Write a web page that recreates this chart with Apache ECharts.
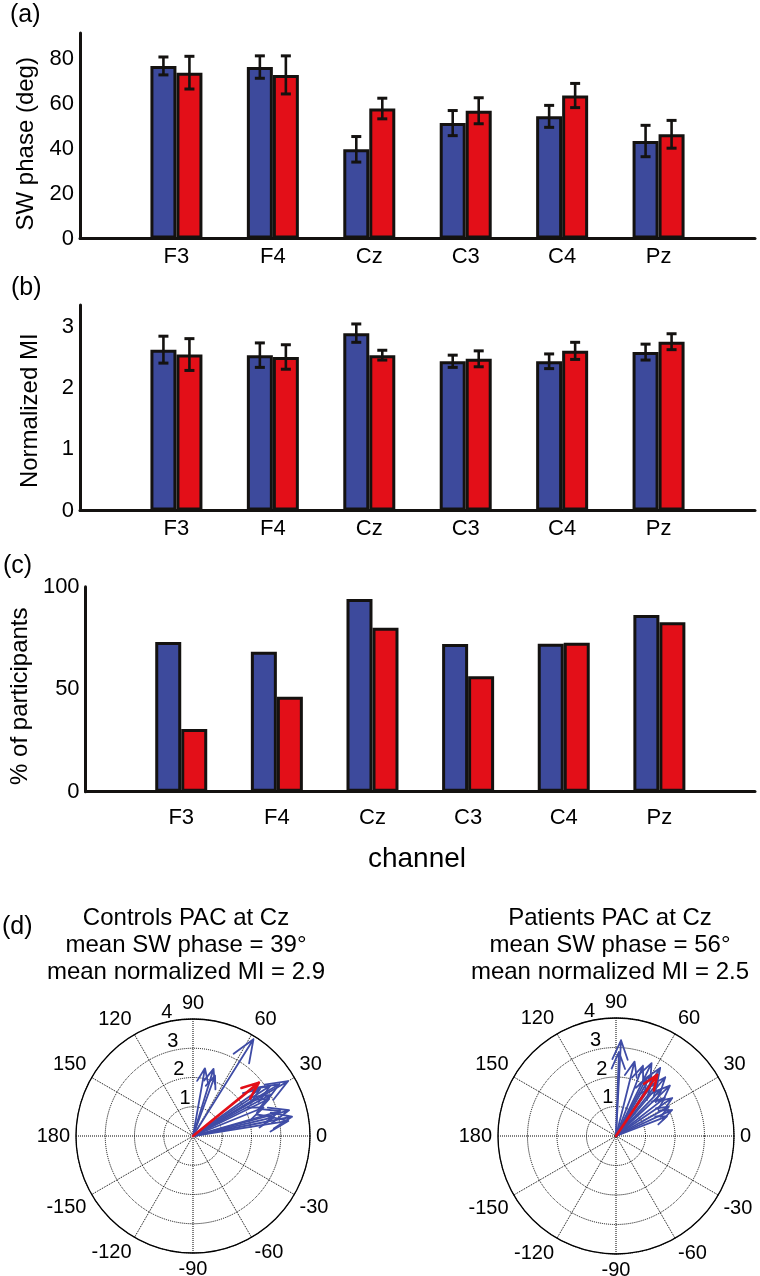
<!DOCTYPE html>
<html>
<head>
<meta charset="utf-8">
<script src="https://cdn.jsdelivr.net/npm/echarts@6/dist/echarts.min.js"></script>
<style>
html,body{margin:0;padding:0;background:#fff;}
#chart{width:760px;height:1276px;}
</style>
</head>
<body>
<div id="chart"></div>
<script>
// ---------- data ----------
const channels = ['F3', 'F4', 'Cz', 'C3', 'C4', 'Pz'];

// (a) SW phase (deg)
const phaseControls = [77, 76.5, 39.8, 51.5, 54.5, 43.5];
const phaseControlsErr = [4, 5, 5.7, 5.6, 4.9, 7];
const phasePatients = [74, 73, 58, 57, 63.8, 46.5];
const phasePatientsErr = [7.3, 8.5, 4.6, 5.8, 5.4, 6.2];

// (b) Normalized MI
const miControls = [2.63, 2.54, 2.9, 2.44, 2.44, 2.59];
const miControlsErr = [0.22, 0.2, 0.15, 0.1, 0.12, 0.13];
const miPatients = [2.55, 2.51, 2.54, 2.48, 2.61, 2.76];
const miPatientsErr = [0.26, 0.2, 0.08, 0.13, 0.14, 0.13];

// (c) % of participants
const pctControls = [73, 68.3, 94, 72, 72.2, 86.2];
const pctPatients = [30.6, 46.3, 80, 56.3, 72.7, 82.6];

// (d) compass plots at Cz
const ctrlAngle = [58, 80, 73, 70, 30, 31, 33, 28, 35, 26, 15, 11, 16, 13, 9, 22];
const ctrlMI    = [3.9, 2.35, 2.4, 2.2, 3.75, 3.45, 3.15, 3.0, 2.8, 2.9, 3.4, 3.45, 3.1, 2.85, 3.3, 2.6];
const patAngle  = [87, 88, 76, 69, 64, 60, 57, 52, 50, 46, 43, 38, 34, 29, 25, 21, 55, 62];
const patMI     = [3.25, 2.85, 2.6, 2.55, 2.75, 2.4, 2.75, 2.3, 2.6, 2.2, 2.5, 2.1, 2.3, 2.05, 2.1, 1.85, 2.0, 2.2];
const meanAngle = [39, 56];
const meanMI = [2.9, 2.5];
const groupNames = ['Controls', 'Patients'];
const radiusTicks = [1, 2, 3, 4];

// ---------- styles ----------
const FONT = 'Arial, "Liberation Sans", sans-serif';
const BLUE = '#3d4a9c';
const RED = '#e30f18';
const ARROW_BLUE = '#3f4ca6';
const EDGE = '#141210';
const BARW = 26;

const padded = ['', ...channels, ''];
const pad = arr => ['-', ...arr, '-'];

const grids = [
  {left: 80, top: 33, width: 675, height: 205.5},
  {left: 80, top: 305, width: 675, height: 205.5},
  {left: 79, top: 586.7, width: 676, height: 205}
];
const yMax = [91.7, 3.36, 100];
const yInt = [20, 1, 50];
const yNames = ['SW phase (deg)', 'Normalized MI', '% of participants'];
const yGaps = [42, 38, 40];
const yPad = [[0, 16, 0, 0], [0, 6, 0, 0], [0, 14, 0, 0]];
const xMargins = [7, 7, 15];

const xAxes = grids.map((g, i) => ({
  gridIndex: i, type: 'category', data: padded, boundaryGap: false,
  axisLine: {lineStyle: {color: EDGE, width: 3}},
  axisTick: {show: false},
  axisLabel: {color: '#000', fontSize: 22, fontFamily: FONT, margin: xMargins[i], interval: 0},
  splitLine: {show: false}
}));
const yAxes = grids.map((g, i) => ({
  gridIndex: i, type: 'value', min: 0, max: yMax[i], interval: yInt[i],
  name: yNames[i], nameLocation: 'middle', nameGap: yGaps[i],
  nameTextStyle: {color: '#000', fontSize: 24, fontFamily: FONT, padding: yPad[i]},
  axisLine: {show: true, lineStyle: {color: EDGE, width: 3}},
  axisTick: {show: false},
  axisLabel: {color: '#000', fontSize: 22, fontFamily: FONT, margin: 6, showMaxLabel: i === 2},
  splitLine: {show: false}
}));

function barSeries(i, vals, color) {
  return {
    type: 'bar', xAxisIndex: i, yAxisIndex: i, data: pad(vals),
    barWidth: BARW, barGap: '0%',
    itemStyle: {color: color, borderColor: EDGE, borderWidth: 3},
    z: 2, animation: false
  };
}
function errSeries(i, vals, errs, offset) {
  return {
    type: 'custom', xAxisIndex: i, yAxisIndex: i, z: 5, animation: false,
    data: vals.map((v, k) => [k + 1, v, errs[k]]),
    renderItem: function (p, api) {
      const x = api.value(0), v = api.value(1), e = api.value(2);
      const t = api.coord([x, v + e]), b = api.coord([x, v - e]);
      const cx = t[0] + offset;
      const st = {stroke: EDGE, lineWidth: 2.6};
      const cap = {stroke: EDGE, lineWidth: 3};
      return {type: 'group', children: [
        {type: 'line', shape: {x1: cx, y1: t[1], x2: cx, y2: b[1]}, style: st},
        {type: 'line', shape: {x1: cx - 5, y1: t[1], x2: cx + 5, y2: t[1]}, style: cap},
        {type: 'line', shape: {x1: cx - 5, y1: b[1], x2: cx + 5, y2: b[1]}, style: cap}
      ]};
    }
  };
}
function arrowSeries(pi, angles, mis, color, width, z) {
  return {
    type: 'custom', coordinateSystem: 'polar', polarIndex: pi, z: z, animation: false,
    data: angles.map((a, k) => [mis[k], a]),
    renderItem: function (p, api) {
      const r = api.value(0), a = api.value(1);
      const tip = api.coord([r, a]);
      const o = api.coord([0, a]);
      const dx = tip[0] - o[0], dy = tip[1] - o[1];
      const h1 = [o[0] + 0.8 * dx - 0.08 * dy, o[1] + 0.8 * dy + 0.08 * dx];
      const h2 = [o[0] + 0.8 * dx + 0.08 * dy, o[1] + 0.8 * dy - 0.08 * dx];
      return {type: 'polyline', shape: {points: [o, tip, h1, tip, h2]},
        style: {stroke: color, lineWidth: width, fill: null, lineJoin: 'round', lineCap: 'round'}};
    }
  };
}
function radiusLabelSeries(pi) {
  return {
    type: 'custom', coordinateSystem: 'polar', polarIndex: pi, z: 3, animation: false, silent: true,
    data: radiusTicks.map(t => [t + 0.32, 102, t]),
    renderItem: function (p, api) {
      const pt = api.coord([api.value(0), api.value(1)]);
      return {type: 'text', x: pt[0], y: pt[1],
        style: {text: String(api.value(2)), fill: '#000', font: '20px ' + FONT,
          textAlign: 'center', textVerticalAlign: 'middle'}};
    }
  };
}

const polars = [
  {center: [193, 1136], radius: 117},
  {center: [616, 1136], radius: 118}
];
const angleAxes = polars.map((p, i) => ({
  polarIndex: i, type: 'value', min: 0, max: 360, interval: 30,
  startAngle: 0, clockwise: false,
  axisLine: {lineStyle: {color: '#000', width: 1.3}},
  axisTick: {show: false},
  axisLabel: {color: '#000', fontSize: 20, fontFamily: FONT, margin: 6,
    formatter: v => (v === 360 ? '' : String(v > 180 ? v - 360 : v))},
  splitLine: {show: true, lineStyle: {color: '#000', width: 1, type: 'dotted'}}
}));
const radiusAxes = polars.map((p, i) => ({
  polarIndex: i, type: 'value', min: 0, max: 4, interval: 1,
  axisLine: {show: false}, axisTick: {show: false}, axisLabel: {show: false},
  splitLine: {show: true, lineStyle: {color: '#000', width: 1, type: 'dotted'}}
}));

const titleCenters = [186, 610];
const graphics = [
  {type: 'text', left: 10, top: 3, style: {text: '(a)', font: '25px ' + FONT, fill: '#000'}},
  {type: 'text', left: 11, top: 276, style: {text: '(b)', font: '25px ' + FONT, fill: '#000'}},
  {type: 'text', left: 3, top: 554, style: {text: '(c)', font: '25px ' + FONT, fill: '#000'}},
  {type: 'text', left: 2, top: 915, style: {text: '(d)', font: '25px ' + FONT, fill: '#000'}},
  {type: 'text', x: 417, y: 859, style: {text: 'channel', font: '28px ' + FONT, fill: '#000', textAlign: 'center', textVerticalAlign: 'middle'}}
];
[0, 1].forEach(i => {
  graphics.push({
    type: 'text', x: titleCenters[i], y: 945,
    style: {
      text: groupNames[i] + ' PAC at Cz\nmean SW phase = ' + meanAngle[i] + '°\nmean normalized MI = ' + meanMI[i].toFixed(1),
      font: '24px ' + FONT, fill: '#000', textAlign: 'center', textVerticalAlign: 'middle', lineHeight: 27
    }
  });
});

const option = {
  backgroundColor: '#fff',
  animation: false,
  grid: grids,
  xAxis: xAxes,
  yAxis: yAxes,
  polar: polars,
  angleAxis: angleAxes,
  radiusAxis: radiusAxes,
  graphic: graphics,
  series: [
    barSeries(0, phaseControls, BLUE), barSeries(0, phasePatients, RED),
    errSeries(0, phaseControls, phaseControlsErr, -BARW / 2), errSeries(0, phasePatients, phasePatientsErr, BARW / 2),
    barSeries(1, miControls, BLUE), barSeries(1, miPatients, RED),
    errSeries(1, miControls, miControlsErr, -BARW / 2), errSeries(1, miPatients, miPatientsErr, BARW / 2),
    barSeries(2, pctControls, BLUE), barSeries(2, pctPatients, RED),
    arrowSeries(0, ctrlAngle, ctrlMI, ARROW_BLUE, 1.8, 4),
    arrowSeries(0, [meanAngle[0]], [meanMI[0]], RED, 2.6, 6),
    arrowSeries(1, patAngle, patMI, ARROW_BLUE, 1.8, 4),
    arrowSeries(1, [meanAngle[1]], [meanMI[1]], RED, 2.6, 6),
    radiusLabelSeries(0), radiusLabelSeries(1)
  ]
};
const chart = echarts.init(document.getElementById('chart'), null, {renderer: 'canvas'});
chart.setOption(option);
</script>
</body>
</html>
